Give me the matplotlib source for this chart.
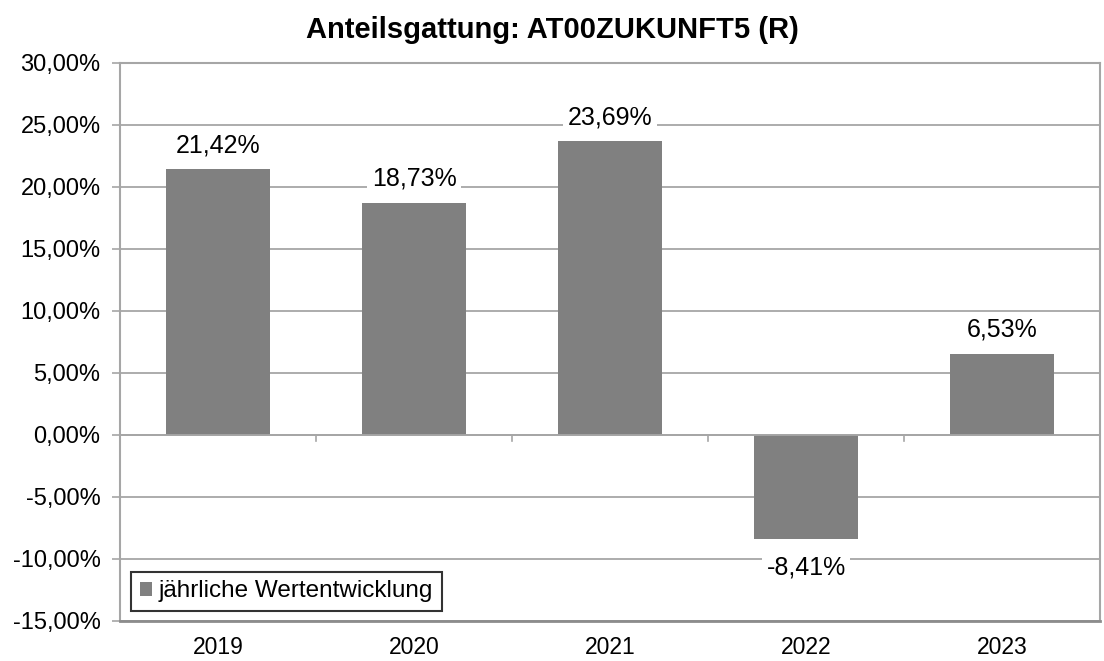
import numpy as np
import matplotlib.pyplot as plt
from matplotlib.ticker import FuncFormatter

plt.rcParams['font.family'] = ['Liberation Sans', 'DejaVu Sans']

jahre = ["2019", "2020", "2021", "2022", "2023"]
werte = [21.42, 18.73, 23.69, -8.41, 6.53]

grau = "#808080"
linie = "#a6a6a6"

fig = plt.figure(figsize=(11.04, 6.61), dpi=100)
ax = fig.add_axes([120/1104, 1-621/661, 980/1104, (621-63)/661])

x = np.arange(len(jahre))
ax.bar(x, werte, width=0.53, color=grau, label="jährliche Wertentwicklung", zorder=3)

ax.set_xlim(-0.5, len(jahre)-0.5)
ax.set_ylim(-15, 30)
ax.set_yticks(np.arange(-15, 31, 5))
ax.yaxis.set_major_formatter(FuncFormatter(lambda v, p: f"{v:.2f}%".replace(".", ",")))
ax.grid(axis="y", color=linie, linewidth=1.3, zorder=0)
ax.tick_params(axis="y", length=6, color=linie, width=1.2, labelsize=17, pad=8)

# Kategorienachse bei 0 mit Teilstrichen zwischen den Jahren
ax.axhline(0, color=linie, linewidth=1.3, zorder=4)
for b in np.arange(0.5, len(jahre)-1, 1):
    ax.plot([b, b], [0, -0.5], color=linie, linewidth=1.2, zorder=4)
ax.set_xticks(x)
ax.set_xticklabels(jahre)
ax.tick_params(axis="x", length=0, labelsize=16.5, pad=11)

for s in ["left", "top", "right"]:
    ax.spines[s].set_color(linie)
    ax.spines[s].set_linewidth(1.5)
ax.spines["bottom"].set_color("#8c8c8c")
ax.spines["bottom"].set_linewidth(2)

for xi, v in zip(x, werte):
    txt = f"{v:.2f}%".replace(".", ",")
    off = 1.95 if v >= 0 else -2.3
    ax.text(xi, v + off, txt, ha="center", va="center", fontsize=18,
            bbox=dict(facecolor="white", edgecolor="none", pad=3), zorder=5)

leg = ax.legend(loc="lower left", fontsize=17.5, frameon=True, fancybox=False,
                handlelength=0.5, handleheight=0.5, handletextpad=0.3,
                borderpad=0.35, borderaxespad=0, bbox_to_anchor=(11/980, 10/558))
leg.get_frame().set_edgecolor("black")
leg.get_frame().set_linewidth(1.5)

fig.text(0.5, 1-30/661, "Anteilsgattung: AT00ZUKUNFT5 (R)", ha="center", va="center",
         fontsize=21, fontweight="bold")

fig.savefig("out.png", dpi=100, facecolor="white")
